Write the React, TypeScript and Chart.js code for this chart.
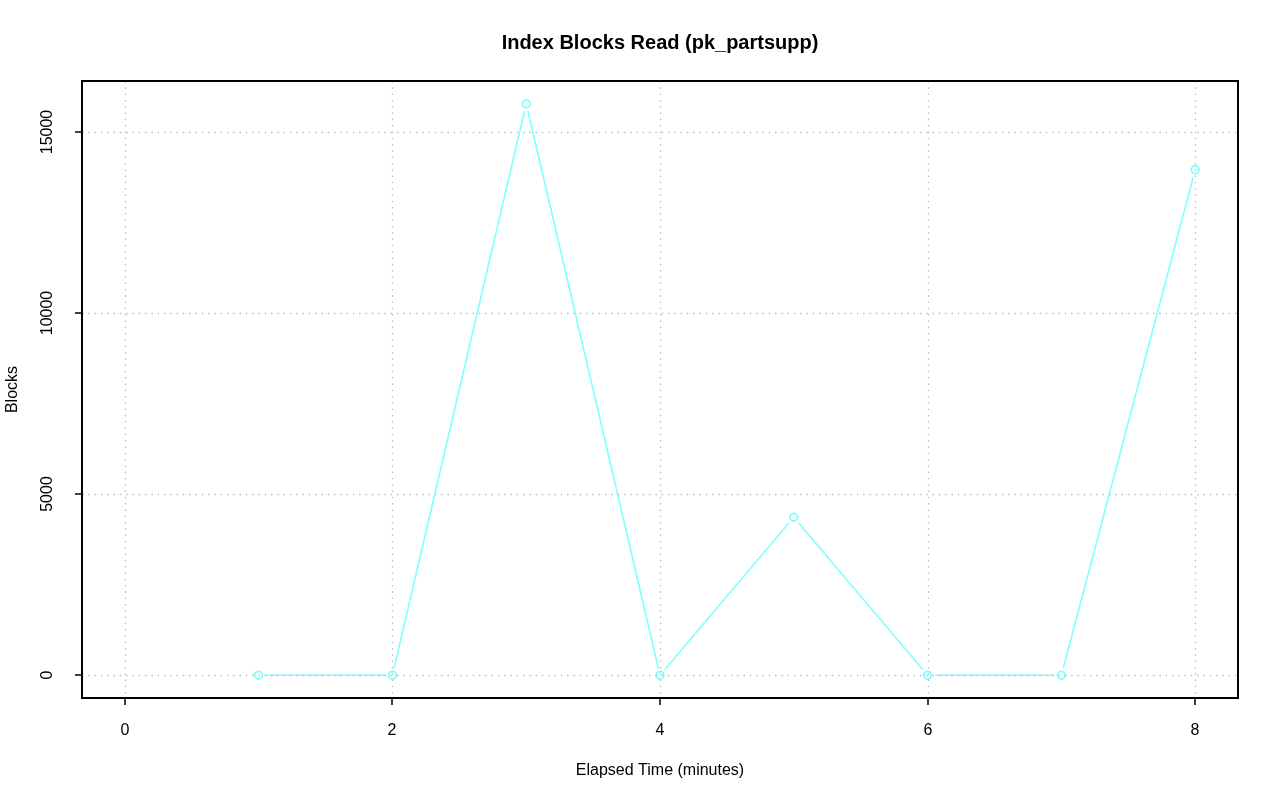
import React, { useEffect, useRef } from "react";
import { Chart, registerables } from "chart.js";

Chart.register(...registerables);

const titleText = "Index Blocks Read (pk_partsupp)";
const xAxisTitle = "Elapsed Time (minutes)";
const yAxisTitle = "Blocks";
const elapsedMinutes = [1, 2, 3, 4, 5, 6, 7, 8];
const blocksRead = [0, 0, 15770, 0, 4360, 0, 0, 13950];
const xTicks = [0, 2, 4, 6, 8];
const yTicks = [0, 5000, 10000, 15000];

const LINE_COLOR = "#80FFFF";
const FONT = "'Liberation Sans', Arial, Helvetica, sans-serif";

const rStylePlugin = {
  id: "rStyle",
  afterDatasetsDraw(chart: any) {
    const { ctx, chartArea, scales } = chart;
    const xs = scales.x;
    const ys = scales.y;
    const { left, right, top, bottom } = chartArea;
    ctx.save();
    const meta = chart.getDatasetMeta(0);
    meta.data.forEach((pt: any) => {
      ctx.beginPath();
      ctx.fillStyle = "#ffffff";
      ctx.arc(pt.x, pt.y, 7.5, 0, Math.PI * 2);
      ctx.fill();
    });
    meta.data.forEach((pt: any) => {
      ctx.beginPath();
      ctx.strokeStyle = LINE_COLOR;
      ctx.lineWidth = 1.8;
      ctx.arc(pt.x, pt.y, 3.8, 0, Math.PI * 2);
      ctx.stroke();
    });
    // grid
    ctx.strokeStyle = "#bdbdbd";
    ctx.lineWidth = 1.3;
    ctx.setLineDash([1.5, 4.8]);
    xTicks.forEach((v) => {
      const px = Math.round(xs.getPixelForValue(v)) + 0.5;
      ctx.beginPath();
      ctx.moveTo(px, top);
      ctx.lineTo(px, bottom);
      ctx.stroke();
    });
    yTicks.forEach((v) => {
      const py = Math.round(ys.getPixelForValue(v)) + 0.5;
      ctx.beginPath();
      ctx.moveTo(left, py);
      ctx.lineTo(right, py);
      ctx.stroke();
    });
    ctx.setLineDash([]);
    // box
    ctx.strokeStyle = "#000000";
    ctx.lineWidth = 2;
    ctx.strokeRect(left, top, right - left, bottom - top);
    // ticks
    ctx.lineWidth = 1.5;
    ctx.fillStyle = "#000000";
    ctx.font = `16px ${FONT}`;
    ctx.textAlign = "center";
    ctx.textBaseline = "middle";
    xTicks.forEach((v) => {
      const px = Math.round(xs.getPixelForValue(v));
      ctx.beginPath();
      ctx.moveTo(px, bottom);
      ctx.lineTo(px, bottom + 7);
      ctx.stroke();
      ctx.fillText(String(v), px, bottom + 33);
    });
    yTicks.forEach((v) => {
      const py = Math.round(ys.getPixelForValue(v));
      ctx.beginPath();
      ctx.moveTo(left, py);
      ctx.lineTo(left - 7, py);
      ctx.stroke();
      ctx.save();
      ctx.translate(left - 34, py);
      ctx.rotate(-Math.PI / 2);
      ctx.fillText(String(v), 0, 0);
      ctx.restore();
    });
    // axis titles
    ctx.fillText(xAxisTitle, (left + right) / 2, bottom + 73);
    ctx.save();
    ctx.translate(13, (top + bottom) / 2);
    ctx.rotate(-Math.PI / 2);
    ctx.fillText(yAxisTitle, 0, 0);
    ctx.restore();
    // main title
    ctx.font = `bold 20px ${FONT}`;
    ctx.fillText(titleText, (left + right) / 2, 43);
    ctx.restore();
  },
};

export default function App() {
  const ref = useRef<HTMLCanvasElement | null>(null);
  useEffect(() => {
    document.body.style.margin = "0";
    const canvas = ref.current;
    if (!canvas) return;
    const chart = new Chart(canvas, {
      type: "line",
      data: {
        datasets: [
          {
            data: elapsedMinutes.map((m, i) => ({ x: m, y: blocksRead[i] })),
            borderColor: LINE_COLOR,
            borderWidth: 1.6,
            pointRadius: 0,
            fill: false,
            tension: 0,
          },
        ],
      },
      options: {
        responsive: false,
        animation: false,
        devicePixelRatio: 1,
        layout: { padding: { left: 82, right: 42, top: 81, bottom: 103 } },
        plugins: { legend: { display: false }, tooltip: { enabled: false }, title: { display: false } },
        scales: {
          x: { type: "linear", min: -0.32, max: 8.32, display: false },
          y: { type: "linear", min: -630, max: 16400, display: false },
        },
      },
      plugins: [rStylePlugin],
    });
    return () => chart.destroy();
  }, []);
  return <canvas ref={ref} width={1280} height={801} style={{ display: "block" }} />;
}
